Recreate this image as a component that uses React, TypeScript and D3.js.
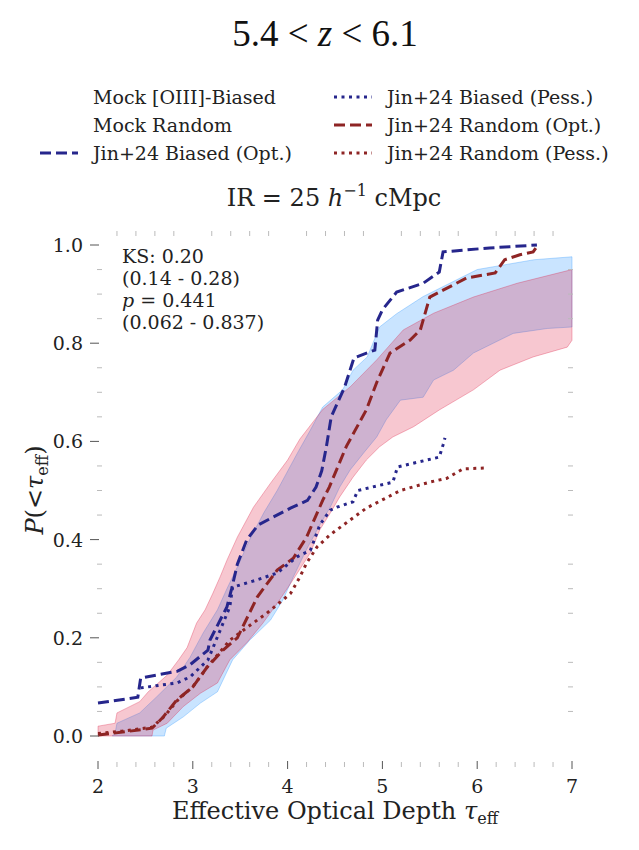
import React, { useEffect, useRef } from "react";
import * as d3 from "d3";

type Pt = [number, number];

// mock CDF envelopes, [tau_eff, P]
const biasedUpper: Pt[] = [[2.15, 0], [2.18, 0.006], [2.2, 0.026], [2.44, 0.047], [2.62, 0.08], [2.83, 0.12], [2.97, 0.16], [3.11, 0.21], [3.26, 0.257], [3.36, 0.3], [3.47, 0.344], [3.6, 0.4], [3.75, 0.455], [3.89, 0.5], [4.1, 0.575], [4.24, 0.623], [4.37, 0.67], [4.58, 0.705], [4.69, 0.745], [4.84, 0.772], [4.97, 0.833], [5.15, 0.86], [5.43, 0.895], [6.0, 0.95], [6.6, 0.97], [7.0, 0.976]];
const biasedLower: Pt[] = [[2.15, 0], [2.7, 0], [2.72, 0.016], [2.9, 0.039], [3.08, 0.067], [3.26, 0.09], [3.42, 0.155], [3.6, 0.195], [3.82, 0.236], [3.95, 0.277], [4.06, 0.324], [4.2, 0.38], [4.34, 0.43], [4.45, 0.466], [4.55, 0.507], [4.66, 0.542], [4.8, 0.576], [4.94, 0.609], [5.04, 0.644], [5.19, 0.684], [5.43, 0.69], [5.54, 0.725], [5.75, 0.745], [5.96, 0.78], [6.17, 0.8], [6.38, 0.82], [6.74, 0.83], [7.0, 0.833]];
const randomUpper: Pt[] = [[2.0, 0.02], [2.18, 0.026], [2.2, 0.047], [2.44, 0.07], [2.53, 0.09], [2.73, 0.124], [2.85, 0.155], [2.94, 0.18], [3.04, 0.23], [3.13, 0.257], [3.21, 0.29], [3.29, 0.325], [3.36, 0.358], [3.47, 0.405], [3.64, 0.466], [3.82, 0.515], [4.0, 0.562], [4.13, 0.605], [4.27, 0.64], [4.37, 0.665], [4.66, 0.711], [4.94, 0.766], [5.22, 0.827], [5.54, 0.861], [5.96, 0.894], [6.42, 0.922], [7.0, 0.95]];
const randomLower: Pt[] = [[2.0, 0], [2.57, 0], [2.58, 0.012], [2.73, 0.026], [2.9, 0.06], [3.08, 0.087], [3.26, 0.108], [3.39, 0.155], [3.57, 0.19], [3.74, 0.23], [3.89, 0.27], [4.03, 0.31], [4.13, 0.34], [4.24, 0.373], [4.34, 0.42], [4.45, 0.454], [4.55, 0.487], [4.69, 0.527], [4.83, 0.562], [4.97, 0.589], [5.11, 0.609], [5.33, 0.63], [5.6, 0.664], [5.96, 0.705], [6.24, 0.745], [6.59, 0.772], [6.95, 0.792], [7.0, 0.806]];

// Jin+24 observed CDFs
const jinBiasedOpt: Pt[] = [[2.0, 0.067], [2.42, 0.079], [2.45, 0.118], [2.84, 0.132], [2.97, 0.145], [3.16, 0.175], [3.18, 0.195], [3.36, 0.263], [3.41, 0.3], [3.47, 0.35], [3.57, 0.4], [3.69, 0.43], [4.03, 0.464], [4.21, 0.48], [4.3, 0.507], [4.36, 0.54], [4.41, 0.59], [4.46, 0.65], [4.6, 0.71], [4.7, 0.77], [4.92, 0.786], [4.95, 0.847], [5.0, 0.868], [5.15, 0.904], [5.43, 0.922], [5.6, 0.945], [5.64, 0.986], [6.13, 0.994], [6.63, 1.0]];
const jinBiasedPess: Pt[] = [[2.45, 0.098], [2.83, 0.108], [2.97, 0.12], [3.16, 0.155], [3.29, 0.216], [3.39, 0.263], [3.42, 0.303], [3.68, 0.318], [3.89, 0.332], [4.1, 0.365], [4.24, 0.378], [4.34, 0.43], [4.45, 0.46], [4.52, 0.466], [4.69, 0.477], [4.74, 0.5], [5.11, 0.517], [5.16, 0.548], [5.6, 0.568], [5.64, 0.593], [5.66, 0.607]];
const jinRandomOpt: Pt[] = [[2.0, 0.002], [2.26, 0.008], [2.57, 0.016], [2.68, 0.037], [2.83, 0.073], [3.0, 0.1], [3.15, 0.14], [3.32, 0.175], [3.47, 0.2], [3.68, 0.283], [3.89, 0.338], [4.06, 0.362], [4.2, 0.405], [4.37, 0.48], [4.44, 0.507], [4.62, 0.59], [4.83, 0.664], [4.94, 0.72], [5.08, 0.78], [5.29, 0.806], [5.4, 0.827], [5.5, 0.894], [5.64, 0.908], [5.89, 0.933], [6.19, 0.943], [6.29, 0.97], [6.45, 0.98], [6.59, 0.986], [6.64, 1.0]];
const jinRandomPess: Pt[] = [[2.0, 0.005], [2.26, 0.01], [2.57, 0.018], [2.7, 0.04], [2.85, 0.075], [3.0, 0.1], [3.15, 0.14], [3.39, 0.195], [3.6, 0.225], [3.78, 0.25], [4.03, 0.29], [4.13, 0.324], [4.2, 0.352], [4.31, 0.385], [4.45, 0.41], [4.66, 0.44], [4.83, 0.464], [5.19, 0.5], [5.5, 0.517], [5.68, 0.525], [5.85, 0.544], [6.11, 0.546]];

const xTicks = [2, 3, 4, 5, 6, 7];
const yTicks = [0, 0.2, 0.4, 0.6, 0.8, 1.0];
const statsLines = ["KS: 0.20", "(0.14 - 0.28)", "p = 0.441", "(0.062 - 0.837)"];

const NAVY = "#26268c";
const DARKRED = "#8e2424";
const BLUE = "#1e90ff";
const PINK = "#dc143c";
const FONT = "DejaVu Serif";
const SMALL = 19;
const LABEL = 24;

export default function App() {
  const ref = useRef<SVGSVGElement>(null);

  useEffect(() => {
    if (!ref.current) return;
    const svg = d3.select(ref.current);
    svg.selectAll("*").remove();

    const x = d3.scaleLinear().domain([2, 7]).range([98, 572]);
    const y = d3.scaleLinear().domain([0, 1]).range([736, 245]);
    const line = d3.line<Pt>().x((d) => x(d[0])).y((d) => y(d[1]));

    // Mock envelopes
    const band = (upper: Pt[], lower: Pt[], color: string) => {
      const poly = [...upper, ...lower.slice().reverse()];
      svg
        .append("path")
        .attr("d", line(poly) + "Z")
        .attr("fill", color)
        .attr("fill-opacity", 0.24)
        .attr("stroke", color)
        .attr("stroke-opacity", 0.3)
        .attr("stroke-width", 1);
    };
    band(biasedUpper, biasedLower, BLUE);
    band(randomUpper, randomLower, PINK);

    // Observed CDFs
    const curve = (data: Pt[], color: string, dash: string) => {
      svg
        .append("path")
        .attr("d", line(data))
        .attr("fill", "none")
        .attr("stroke", color)
        .attr("stroke-width", 3)
        .attr("stroke-dasharray", dash);
    };
    curve(jinBiasedOpt, NAVY, "11,5");
    curve(jinRandomOpt, DARKRED, "11,5");
    curve(jinBiasedPess, NAVY, "3,4.5");
    curve(jinRandomPess, DARKRED, "3,4.5");

    // Ticks
    const ticks = svg.append("g");
    const yMinor = d3.range(0, 1.0001, 0.05).filter((v) => Math.round(v * 100) % 20 !== 0);
    const xMinor = d3.range(2, 7.0001, 0.2).filter((v) => Math.abs(v - Math.round(v)) > 0.01);

    yTicks.forEach((v) => {
      ticks.append("line").attr("x1", 90).attr("x2", 99).attr("y1", y(v)).attr("y2", y(v)).attr("stroke", "#555");
      ticks
        .append("text")
        .attr("x", 83)
        .attr("y", y(v) + 7)
        .attr("text-anchor", "end")
        .attr("font-family", FONT)
        .attr("font-size", SMALL)
        .attr("fill", "#222")
        .text(v.toFixed(1));
    });
    yMinor.forEach((v) => {
      ticks.append("line").attr("x1", 97).attr("x2", 102).attr("y1", y(v)).attr("y2", y(v)).attr("stroke", "#bbb");
      ticks.append("line").attr("x1", 568).attr("x2", 573).attr("y1", y(v)).attr("y2", y(v)).attr("stroke", "#bbb");
    });

    xTicks.forEach((v) => {
      ticks.append("line").attr("x1", x(v)).attr("x2", x(v)).attr("y1", 761).attr("y2", 769).attr("stroke", "#555");
      ticks
        .append("text")
        .attr("x", x(v))
        .attr("y", 793)
        .attr("text-anchor", "middle")
        .attr("font-family", FONT)
        .attr("font-size", SMALL)
        .attr("fill", "#222")
        .text(v);
    });
    xMinor.forEach((v) => {
      ticks.append("line").attr("x1", x(v)).attr("x2", x(v)).attr("y1", 762).attr("y2", 767).attr("stroke", "#bbb");
      ticks.append("line").attr("x1", x(v)).attr("x2", x(v)).attr("y1", 231).attr("y2", 236).attr("stroke", "#bbb");
    });

    // Stats box
    statsLines.forEach((s, i) => {
      const t = svg
        .append("text")
        .attr("x", 122)
        .attr("y", 263 + i * 22)
        .attr("font-family", FONT)
        .attr("font-size", SMALL)
        .attr("fill", "#222");
      if (s.startsWith("p ")) {
        t.append("tspan").attr("font-style", "italic").text("p");
        t.append("tspan").text(s.slice(1));
      } else t.text(s);
    });

    // Axis labels
    const xl = svg
      .append("text")
      .attr("x", 335)
      .attr("y", 819)
      .attr("text-anchor", "middle")
      .attr("font-family", FONT)
      .attr("font-size", LABEL)
      .attr("fill", "#222");
    xl.append("tspan").text("Effective Optical Depth ");
    xl.append("tspan").attr("font-style", "italic").text("τ");
    xl.append("tspan").attr("font-size", 16).attr("dy", 5).text("eff");

    const yl = svg
      .append("text")
      .attr("transform", "translate(43,490) rotate(-90)")
      .attr("text-anchor", "middle")
      .attr("font-family", FONT)
      .attr("font-size", LABEL)
      .attr("fill", "#222");
    yl.append("tspan").attr("font-style", "italic").text("P");
    yl.append("tspan").text("(<");
    yl.append("tspan").attr("font-style", "italic").text("τ");
    yl.append("tspan").attr("font-size", 16).attr("dy", 5).text("eff");
    yl.append("tspan").attr("dy", -5).text(")");

    // Titles
    const title = svg
      .append("text")
      .attr("x", 325)
      .attr("y", 46)
      .attr("text-anchor", "middle")
      .attr("font-family", "Liberation Serif")
      .attr("font-size", 37)
      .attr("fill", "#111");
    title.append("tspan").text("5.4 < ");
    title.append("tspan").attr("font-style", "italic").text("z");
    title.append("tspan").text(" < 6.1");

    const sub = svg
      .append("text")
      .attr("x", 334)
      .attr("y", 206)
      .attr("text-anchor", "middle")
      .attr("font-family", FONT)
      .attr("font-size", LABEL)
      .attr("fill", "#222");
    sub.append("tspan").text("IR = 25 ");
    sub.append("tspan").attr("font-style", "italic").text("h");
    sub.append("tspan").attr("font-size", 16).attr("dy", -10).text("−1");
    sub.append("tspan").attr("dy", 10).text(" cMpc");

    // Legend
    const legend = [
      { label: "Mock [OIII]-Biased", col: 0, row: 0, color: null, dash: "" },
      { label: "Mock Random", col: 0, row: 1, color: null, dash: "" },
      { label: "Jin+24 Biased (Opt.)", col: 0, row: 2, color: NAVY, dash: "11,5" },
      { label: "Jin+24 Biased (Pess.)", col: 1, row: 0, color: NAVY, dash: "3,4.5" },
      { label: "Jin+24 Random (Opt.)", col: 1, row: 1, color: DARKRED, dash: "11,5" },
      { label: "Jin+24 Random (Pess.)", col: 1, row: 2, color: DARKRED, dash: "3,4.5" },
    ];
    legend.forEach((d) => {
      const tx = d.col === 0 ? 93 : 387;
      const cy = 97 + d.row * 28;
      if (d.color) {
        svg
          .append("line")
          .attr("x1", tx - 53)
          .attr("x2", tx - 15)
          .attr("y1", cy)
          .attr("y2", cy)
          .attr("stroke", d.color)
          .attr("stroke-width", 3)
          .attr("stroke-dasharray", d.dash);
      }
      svg
        .append("text")
        .attr("x", tx)
        .attr("y", cy + 7)
        .attr("font-family", FONT)
        .attr("font-size", SMALL)
        .attr("fill", "#222")
        .text(d.label);
    });
  }, []);

  return (
    <svg
      ref={ref}
      width={639}
      height={850}
      style={{ position: "absolute", left: 0, top: 0, background: "#fff" }}
    ></svg>
  );
}
